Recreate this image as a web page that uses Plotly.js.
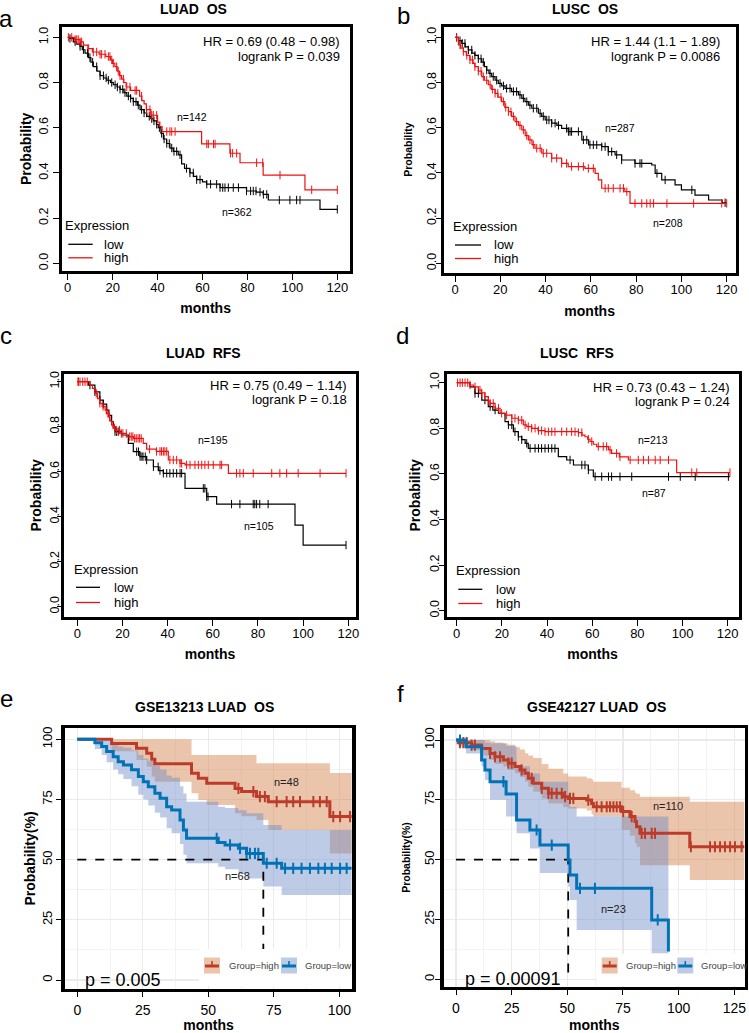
<!DOCTYPE html>
<html><head><meta charset="utf-8">
<script src="https://cdn.plot.ly/plotly-3.0.1.min.js"></script>
<style>html,body{margin:0;padding:0;background:#fff;}#chart{width:749px;height:1033px;}</style>
</head><body><div id="chart"></div>
<script>
// ================= DATA =================
// Panel a: LUAD OS (KM steps: time in months, survival probability)
const aLowT = [0,1,2.5,4,5.5,6.5,7.7,9.2,10.3,11.4,13,14.4,16,17.4,19,20.3,22,23.3,25,26.3,28,29.2,31,32.2,34,35.2,37,38.1,39.5,40.3,41.5,42.6,44,45.5,47,49.2,50.7,52,54.4,56,57.4,60,61.8,67.8,79.6,84,87,89.3,112.3,120];
const aLowS = [1,0.995,0.98,0.97,0.96,0.945,0.93,0.91,0.89,0.87,0.85,0.83,0.82,0.81,0.8,0.79,0.78,0.77,0.755,0.74,0.73,0.715,0.7,0.68,0.665,0.65,0.64,0.63,0.615,0.6,0.575,0.55,0.53,0.51,0.495,0.48,0.44,0.42,0.4,0.385,0.37,0.36,0.35,0.335,0.32,0.315,0.305,0.28,0.239,0.239];
const aLowCens = [1,3.3,5.5,7,8.8,9.9,11.1,12.9,14.4,15.9,17.1,18.1,19.6,21.1,22.1,23.3,24.5,25.5,27,28,29.2,30.4,31.4,32.9,34,35.1,36.3,37.4,38.4,39.6,40.8,41.8,42.9,44.1,45.2,46.3,47.3,48.5,50,52.9,54.4,55.9,57.4,58.9,61.9,63.6,66.3,67.8,69,70,71.5,73.7,76,79.6,81.4,82.6,83.8,85.6,87.1,88.6,94.2,98.9,101.9,103.4,120];
const aHighT = [0,3,5.5,7,9,11,14,17,19,20,21,22,23,24,25,26,28,32,33,34,35,37,40,41,42,59.6,72.2,76.7,87,105.6,120];
const aHighS = [1,0.99,0.98,0.965,0.95,0.935,0.925,0.915,0.9,0.885,0.87,0.85,0.83,0.815,0.8,0.78,0.765,0.74,0.72,0.705,0.68,0.655,0.625,0.605,0.583,0.528,0.487,0.445,0.39,0.325,0.325];
const aHighCens = [0.3,1.8,3.3,4,4.7,5.5,6.2,9.2,11.4,12.9,14.4,15.1,16.6,18.1,18.8,19.6,20.3,21.8,22.5,23.3,24.8,26.3,27.7,30,30.7,32.9,35.1,36.6,37.4,38.1,39.6,44.1,45.5,46.3,47.8,61.9,62.6,64.9,65.6,72.5,73.4,75.2,84.1,86.8,94.5,108.6,120];

// Panel b: LUSC OS
const bLowT = [0,1.5,3,4.5,5.9,7.5,8.8,10.3,11.8,13,14,15,16.2,17.7,19.1,20.6,22.1,25,28,29.5,30.9,32.4,33.9,36.8,38.3,39.8,42.7,45,47.1,50,56,59,64.8,67.7,70.7,73.6,79.5,86.9,88.4,91.3,97.2,100,106,112,118,120];
const bLowS = [1,0.985,0.973,0.958,0.944,0.93,0.92,0.905,0.89,0.87,0.855,0.84,0.826,0.81,0.796,0.785,0.774,0.76,0.745,0.73,0.715,0.7,0.686,0.664,0.65,0.634,0.62,0.61,0.597,0.583,0.546,0.524,0.516,0.494,0.48,0.457,0.442,0.435,0.398,0.369,0.347,0.325,0.302,0.28,0.268,0.268];
const bLowCens = [0.7,2.2,3.2,4.4,5.9,7.4,8.8,10.3,11.5,12.5,14,15.5,16.9,18.4,19.9,21.4,22.8,24.3,25.8,27.2,28.7,30.2,31.7,33.1,34.6,36.1,37.6,39,40.5,41.5,42.7,44.2,45.7,49.3,50.1,50.8,51.5,54.5,56.7,58.2,59.6,61.1,62.6,64.8,66.3,67.7,69.2,71.4,73.6,79.5,81.7,82.5,89.2,92.8,104.6,119.3];
const bHighT = [0,1.5,2.5,3.7,5,6.6,8,8.8,10.3,11.8,13,14.7,16,17.7,19,20.6,22,23.6,25,26.5,28,29.5,31,32.4,34,35.3,38.3,42.7,47.1,50,57.4,61.9,63.3,64.8,75,77.3,120];
const bHighS = [1,0.966,0.952,0.937,0.92,0.9,0.885,0.87,0.85,0.826,0.81,0.79,0.77,0.752,0.735,0.715,0.69,0.671,0.65,0.627,0.61,0.59,0.565,0.546,0.525,0.509,0.487,0.465,0.442,0.428,0.42,0.398,0.369,0.332,0.317,0.265,0.265];
const bHighCens = [0.7,2.2,3.7,5.2,6.6,7.7,8.8,10.3,11.5,12.5,14,15.5,16.5,17.7,18.9,20.3,21.4,22.4,23.6,24.7,25.8,27.2,28.7,30.2,31.7,33.1,34.6,36.1,37.6,39,40.5,42.7,44.9,47.1,49.3,51.5,54.5,56.7,58.9,61.1,66.3,67.7,69.9,72.9,74.4,75.9,79.5,82.5,84.7,86.2,87.7,93.6,105.4,117.8,120];

// Panel c: LUAD RFS
const cLowT = [0,4.9,7.8,10,11.5,13,14,15.2,16,16.7,19.6,22.6,24.8,27.7,30.7,33.7,36,38.1,47.7,57.3,61.7,96.4,100,119];
const cLowS = [1,0.985,0.955,0.918,0.9,0.874,0.85,0.822,0.8,0.778,0.763,0.726,0.689,0.667,0.652,0.622,0.605,0.593,0.526,0.489,0.456,0.363,0.274,0.274];
const cLowCens = [5.6,7.8,10,11.5,13,16.7,17.4,18.1,26.3,27.1,27.8,28.6,29.1,30.1,30.7,33.7,35.8,36.6,38.1,39.6,41,42.5,44,45.5,46.2,55.8,56.5,57.3,57.9,68.3,72,77.9,78.6,79.4,80.8,84.5,119];
const cHighT = [0,5.6,6.7,7.8,9,10,11,12.3,13,13.7,14.5,15.2,16,16.7,18.9,21.8,24.8,29.2,30.7,35,40.3,45.5,47.7,66.9,119];
const cHighS = [1,0.985,0.97,0.948,0.925,0.904,0.89,0.874,0.86,0.844,0.825,0.807,0.795,0.785,0.77,0.756,0.748,0.726,0.7,0.69,0.652,0.637,0.63,0.593,0.593];
const cHighCens = [0.3,0.5,1.2,2.4,3.4,4.4,8.4,10,11.4,12.8,13.6,14.3,15.8,16.5,17.3,18.7,19.5,20.2,21.7,23.2,23.9,24.6,25.4,26.1,26.9,27.6,28.3,32,35.1,36.6,37.3,38.1,38.8,39.6,41,42.5,44,45.5,46.2,48.4,49.9,52.1,53.6,55.1,56.5,58,60.2,63.2,63.9,70.5,72,73.5,77.9,86.1,89.7,92.7,97.8,107.5,119];

// Panel d: LUSC RFS
const dLowT = [0,5.9,8.1,11.1,14,16,18.5,21.4,22.9,25.1,27.3,28.8,30.3,31.7,45,48.7,51.7,58.3,60.5,121];
const dLowS = [1,0.982,0.953,0.924,0.895,0.88,0.866,0.829,0.815,0.785,0.763,0.75,0.734,0.712,0.676,0.661,0.639,0.617,0.588,0.588];
const dLowCens = [8.1,9.6,12.5,14.8,17,22.9,24.4,25.8,27.3,28.8,31,32.5,34.7,36.2,37.6,39.1,40.6,42.1,43.5,50.2,55.4,56.8,58.3,61.3,64.2,67.2,68.6,72.3,77.5,93.8,99,105.6,120.3];
const dHighT = [0,5.9,7.4,9.6,11,12.5,14,14.8,17,19.2,21.4,24.4,27.3,29.5,31,33.2,36,39.1,53.9,55.5,56.8,58,59,60.5,62,67.2,68.6,72,76,97.4,121];
const dHighS = [1,0.99,0.982,0.968,0.955,0.939,0.92,0.909,0.888,0.866,0.858,0.844,0.836,0.815,0.807,0.8,0.79,0.785,0.781,0.77,0.763,0.752,0.742,0.73,0.72,0.705,0.69,0.675,0.661,0.606,0.606];
const dHighCens = [0.4,1.5,2.5,3.7,4.9,5.9,8.1,10.3,11.1,12.5,14,14.8,16.2,18.5,19.9,22.1,24.4,25.8,27.3,28.8,30.3,31.7,33.2,34.7,36.2,37.6,39.1,40.6,42.1,43.5,46.5,48.7,50.9,52.4,53.9,55.4,58.3,59.8,62.7,64.9,66.4,67.9,70.8,72.3,76.8,80.4,82.7,84.9,87.9,90.1,93.8,104.1,106.3,121];

// Panel e: GSE13213 LUAD OS (percent, with confidence band)
const eHighT  = [0,13.1,22.6,26.5,28.4,29.6,43.6,46.2,49.4,60.2,62.7,68.4,72.9,96.4,104.7];
const eHighS  = [100,98.3,96.3,94.2,91.7,89.8,85.9,83.8,81.7,79.6,78.3,76.2,74.1,67.9,67.9];
const eHighUp = [100,100,100,100,100,100,93.5,93.5,93.5,93.5,93.5,90,90,86,86];
const eHighLo = [100,95,91.4,88.6,84.5,82.4,77.6,74.8,72.7,69.3,68,66.5,62.3,52.6,52.6];
const eHighCens = [61.5,67.2,69.7,71.6,76.1,79.9,82.4,85,90.1,92.6,95.2,97.7,100.3,104.1];
const eLowT  = [0,6.7,9.3,11.2,13.7,15.6,17.6,20.7,23.3,25.2,27.1,29.6,31.6,34.1,36,39.2,40.5,41.7,53.8,56.4,61.5,64.6,71,78,104.7];
const eLowS  = [100,98.6,97,94.9,92.8,90.7,89.3,87.3,84.5,82.4,80.3,77.6,75.5,72,70.6,66.5,62.3,58.9,57.1,56.1,54.7,52.6,48.5,46.4,46.4];
const eLowUp = [100,100,100,99.5,98.5,97,96.5,95.5,93.5,92,91,89,87.5,85,84,80.5,77.5,74.1,72,71.5,70.5,69.3,64.4,62.3,62.3];
const eLowLo = [100,96,93.5,90.5,87.5,85.5,83.5,80.5,77,75,72.5,69.5,67.5,63,61,56.5,52,48.5,47,46,44,42.2,38.8,35.3,35.3];
const eLowCens = [53.2,58.3,62.1,64.6,65.9,67.8,69.1,72.3,76.1,79.3,82.4,85.6,88.8,92,94.5,97.1,100.3,102.8];

// Panel f: GSE42127 LUAD OS
const fHighT  = [0,1,7,11.5,15.3,17.5,21.3,23.5,26.5,28.7,31,32.5,34.7,38.5,41.5,48.2,50.4,58.7,60.9,61.7,74.4,78.1,80.4,81.1,82.6,105,129.5];
const fHighS  = [100,98.9,97.9,96.5,94.4,93,91.6,90.3,88.9,87.5,86.1,84,81.9,79.8,77.7,76.3,75.6,74.9,73.5,72.1,70.1,68,65.9,63.8,61,55.4,55.4];
const fHighUp = [100,100,100,100,99.5,99,98.5,98,97,96,94.5,93.5,92.5,90,88,86,84.7,84,83.5,82.6,80,79,78,77.5,76.3,74.2,74.2];
const fHighLo = [100,97.2,95.8,93.5,91.6,90,88.9,87.5,86.1,84.5,82.6,80.5,78.4,75.6,73.5,72,71.4,70.5,69,68,62.4,60,57,55.4,47.7,41.5,41.5];
const fHighCens = [1.8,3.3,4.8,7,8.5,15.3,17.5,19.8,23.5,25,29.5,34,38.5,41.5,43,45.2,47.5,49,51.2,52.7,59.4,63.2,65.4,67.7,69.2,70.7,72.2,73.7,75.1,78.9,83.4,84.9,87.9,89.4,105.5,114.1,116.3,118.6,120.8,123.1,125.3,128.3];
const fLowT  = [0,4.5,11.5,13,15.3,22.5,27.2,33.2,37.7,50.4,51.2,54.2,87.9,95.4];
const fLowS  = [100,97.2,91.6,87.5,82.6,77.4,66.6,62.4,56.1,49.9,43.6,38,24.8,11.6];
const fLowUp = [100,100,100,99,98.6,97.5,89,86,82.6,77.7,72,68,68,68];
const fLowLo = [100,94.4,88.9,83.3,75,68,61,54.7,44.4,38.7,33.1,20.6,10.9,10.9];
const fLowCens = [1.8,21.3,36.2,43,55.7,62.4,90.6];

// Text content
const panelTitles = ['LUAD\u00a0 OS','LUSC\u00a0 OS','LUAD\u00a0 RFS','LUSC\u00a0 RFS','GSE13213 LUAD\u00a0 OS','GSE42127 LUAD\u00a0 OS'];
const panelLetters = ['a','b','c','d','e','f'];
const hrText = ['HR = 0.69 (0.48 \u2212 0.98)','HR = 1.44 (1.1 \u2212 1.89)','HR = 0.75 (0.49 \u2212 1.14)','HR = 0.73 (0.43 \u2212 1.24)'];
const pText = ['logrank P = 0.039','logrank P = 0.0086','logrank P = 0.18','logrank P = 0.24'];
const nLow = ['n=362','n=287','n=105','n=87','n=68','n=23'];
const nHigh = ['n=142','n=208','n=195','n=213','n=48','n=110'];
const gsePText = ['p = 0.005','p = 0.00091'];
const legendTitle = 'Expression';
const groupNames = ['low','high'];
const gseGroupNames = ['Group=high','Group=low'];

// ================= RENDERING =================
const W = 749, H = 1033;
const FONT = 'Liberation Sans, Arial, Helvetica, sans-serif';
const RED = '#f01010', BLACK = '#000000';
const GRED = '#BC3C29', GBLUE = '#0072B5';
const BAND_HIGH = 'rgba(210,125,70,0.45)', BAND_LOW = 'rgba(110,140,200,0.45)';

function stepAt(T, S, t) { let v = S[0]; for (let i = 0; i < T.length; i++) { if (T[i] <= t) v = S[i]; else break; } return v; }
function median(T, S, lvl) { for (let i = 0; i < T.length; i++) if (S[i] <= lvl) return T[i]; return null; }

function geo(L, R, T, B, xp0, xp1, xv0, xv1, yp0, yp1, yv0, yv1, lw) {
  const i = lw / 2, l = L + i, r = R - i, t = T + i, b = B - i;
  const sx = (xv1 - xv0) / (xp1 - xp0), sy = (yv1 - yv0) / (yp0 - yp1);
  return { xd: [l / W, r / W], yd: [1 - b / H, 1 - t / H],
    xr: [xv0 + (l - xp0) * sx, xv0 + (r - xp0) * sx],
    yr: [yv0 + (yp0 - b) * sy, yv0 + (yp0 - t) * sy] };
}
const G = [
  geo(60.3, 351, 25.3, 272.3, 67.7, 337.3, 0, 120, 263.3, 37.3, 0, 1, 3),
  geo(442.3, 737, 25.3, 274, 455, 726.7, 0, 120, 263.3, 37.3, 0, 1, 3),
  geo(62.7, 357.3, 372.3, 618.3, 77.3, 348.3, 0, 120, 606.7, 381.7, 0, 1, 3),
  geo(445, 740, 372.3, 618.3, 456.7, 727.7, 0, 120, 610.7, 382.7, 0, 1, 3),
  geo(63, 354, 726.3, 990.7, 77.3, 339.3, 0, 100, 980, 739.3, 0, 100, 3.5),
  geo(442, 746.7, 726.3, 988.7, 456, 734.3, 0, 125, 979.3, 740, 0, 100, 3.5)
];
// per-panel axis label spacing: [y ticklen, y labelStandoff, y titleStandoff, x labelStandoff, x titleStandoff]
const AX = [
  [6, 0, 2, -3, 9],
  [5, -5, 11, -3, 11],
  [4, -7, 4, -3, 9],
  [5, -5, 4, -3, 9],
  [5, -1, 2, 1, 12],
  [5, -4, 10, 1, 12]
];

const traces = [];
function km(k, T, S, C, color, w, ms, mw) {
  const xa = 'x' + (k ? k + 1 : ''), ya = 'y' + (k ? k + 1 : '');
  traces.push({ type: 'scatter', mode: 'lines', x: T, y: S, xaxis: xa, yaxis: ya,
    line: { shape: 'hv', color: color, width: w }, showlegend: false, hoverinfo: 'skip' });
  traces.push({ type: 'scatter', mode: 'markers', x: C, y: C.map(t => stepAt(T, S, t)), xaxis: xa, yaxis: ya,
    marker: { symbol: 'line-ns', size: ms, color: color, line: { color: color, width: mw } },
    showlegend: false, hoverinfo: 'skip' });
}
function band(k, T, U, L, fill) {
  const xa = 'x' + (k + 1), ya = 'y' + (k + 1);
  traces.push({ type: 'scatter', mode: 'lines', x: T, y: U, xaxis: xa, yaxis: ya,
    line: { shape: 'hv', width: 0, color: fill }, showlegend: false, hoverinfo: 'skip' });
  traces.push({ type: 'scatter', mode: 'lines', x: T, y: L, xaxis: xa, yaxis: ya,
    line: { shape: 'hv', width: 0, color: fill }, fill: 'tonexty', fillcolor: fill, showlegend: false, hoverinfo: 'skip' });
}
function medLine(k, T, S) {
  const m = median(T, S, 50);
  const xa = 'x' + (k + 1), ya = 'y' + (k + 1);
  traces.push({ type: 'scatter', mode: 'lines', x: [0, m, m], y: [50, 50, 0], xaxis: xa, yaxis: ya,
    line: { color: '#000', width: 1.8, dash: 'dash' }, showlegend: false, hoverinfo: 'skip' });
}

const kmSets = [
  [aLowT, aLowS, aLowCens, aHighT, aHighS, aHighCens],
  [bLowT, bLowS, bLowCens, bHighT, bHighS, bHighCens],
  [cLowT, cLowS, cLowCens, cHighT, cHighS, cHighCens],
  [dLowT, dLowS, dLowCens, dHighT, dHighS, dHighCens]
];
kmSets.forEach((s, k) => {
  km(k, s[0], s[1], s[2], BLACK, 1.2, 6, 1);
  km(k, s[3], s[4], s[5], RED, 1.2, 6, 1);
});
band(4, eHighT, eHighUp, eHighLo, BAND_HIGH);
band(4, eLowT, eLowUp, eLowLo, BAND_LOW);
medLine(4, eLowT, eLowS);
km(4, eHighT, eHighS, eHighCens, GRED, 3, 8, 2);
km(4, eLowT, eLowS, eLowCens, GBLUE, 3, 8, 2);
band(5, fHighT, fHighUp, fHighLo, BAND_HIGH);
band(5, fLowT, fLowUp, fLowLo, BAND_LOW);
medLine(5, fLowT, fLowS);
km(5, fHighT, fHighS, fHighCens, GRED, 3, 8, 2);
km(5, fLowT, fLowS, fLowCens, GBLUE, 3, 8, 2);

const layout = {
  width: W, height: H, margin: { l: 0, r: 0, t: 0, b: 0 },
  paper_bgcolor: '#fff', plot_bgcolor: '#fff',
  font: { family: FONT, color: '#000', size: 13 },
  showlegend: false, annotations: [], shapes: []
};
const yTitles = ['Probability', 'Probability', 'Probability', 'Probability', 'Probability(%)', 'Probability(%)'];
const yTitleSize = [14, 10.5, 14, 14, 14, 10.5];
G.forEach((g, k) => {
  const sfx = k ? k + 1 : '';
  const gse = k >= 4;
  const lw = gse ? 3.5 : 3;
  const a = AX[k];
  const xa = {
    domain: g.xd, range: g.xr, anchor: 'y' + sfx, showline: true, mirror: true, linecolor: '#000', linewidth: lw,
    ticks: 'outside', ticklen: gse ? 5 : 6, tickwidth: 1, tickcolor: '#000', tick0: 0, dtick: gse ? 25 : 20,
    zeroline: false, showgrid: gse, tickfont: { size: gse ? 14 : 13, color: '#000' }, ticklabelstandoff: a[3],
    title: { text: '<b>months</b>', font: { size: 14 }, standoff: a[4] }, fixedrange: true
  };
  const ya = {
    domain: g.yd, range: g.yr, anchor: 'x' + sfx, showline: true, mirror: true, linecolor: '#000', linewidth: lw,
    ticks: 'outside', ticklen: a[0], tickwidth: 1, tickcolor: '#000', tick0: 0, dtick: gse ? 25 : 0.2,
    tickformat: gse ? 'd' : '.1f', tickangle: -90,
    zeroline: false, showgrid: gse, tickfont: { size: gse ? 13 : 12.5, color: '#000' }, ticklabelstandoff: a[1],
    title: { text: '<b>' + yTitles[k] + '</b>', font: { size: yTitleSize[k] }, standoff: a[2] }, fixedrange: true
  };
  if (gse) {
    [xa, ya].forEach(ax => {
      ax.gridcolor = '#EBEBEB'; ax.gridwidth = 1.2;
      ax.minor = { dtick: 12.5, showgrid: true, gridcolor: '#F2F2F2', gridwidth: 0.9, ticks: '' };
    });
  }
  layout['xaxis' + sfx] = xa;
  layout['yaxis' + sfx] = ya;
});

const ann = layout.annotations;
function pxRect(x0, y0, x1, y1, fill) { return { type: 'rect', xref: 'paper', yref: 'paper', x0: x0 / W, x1: x1 / W, y0: 1 - y1 / H, y1: 1 - y0 / H, fillcolor: fill, line: { width: 0 }, layer: 'above' }; }
function pxLine(x0, y0, x1, y1, color, w) { return { type: 'line', xref: 'paper', yref: 'paper', x0: x0 / W, x1: x1 / W, y0: 1 - y0 / H, y1: 1 - y1 / H, line: { color: color, width: w }, layer: 'above' }; }
function pxText(x, y, text, size, color, xanchor, yanchor) {
  ann.push({ xref: 'paper', yref: 'paper', x: x / W, y: 1 - y / H, xanchor: xanchor || 'left', yanchor: yanchor || 'middle',
    text: text, showarrow: false, font: { size: size, color: color || '#000' } });
}

// panel titles and letters
const titlePos = [[193.3, 8.5], [584.7, 8.5], [203.7, 353.3], [576.8, 353.3], [204.3, 706.7], [596.3, 707.3]];
titlePos.forEach((p, k) => pxText(p[0], p[1], '<b>' + panelTitles[k] + '</b>', 14, '#000', 'center', 'middle'));
const letterPos = [[6, 18, 'middle'], [403.5, 0, 'top'], [6, 335, 'middle'], [402.5, 335, 'middle'], [6, 698, 'middle'], [400, 693, 'middle']];
letterPos.forEach((p, k) => pxText(p[0], p[1], panelLetters[k], 24, '#000', 'center', p[2]));

// Expression legends (a-d)
const legGeo = [
  { t: [63.3, 225.7], l: [68.3, 92.7], tx: 101.7, y: [244.3, 257.8] },
  { t: [451, 226.7], l: [455, 481], tx: 491.7, y: [245, 258.5] },
  { t: [71.7, 569.3], l: [76, 100], tx: 111.7, y: [587.3, 602.5] },
  { t: [454, 570.7], l: [458.3, 482.3], tx: 494.3, y: [589.3, 603.5] }
];
legGeo.forEach(L => {
  pxText(L.t[0], L.t[1], legendTitle, 13);
  [BLACK, RED].forEach((c, i) => {
    layout.shapes.push(pxLine(L.l[0], L.y[i], L.l[1], L.y[i], c, 1.3));
    pxText(L.tx, L.y[i], groupNames[i], 13);
  });
});

// HR / logrank texts (data coords)
const hrPos = [[122, 0.98, 0.914], [117.8, 0.98, 0.914], [120.4, 0.981, 0.919], [122, 0.98, 0.917]];
hrPos.forEach((p, k) => {
  const sfx = k ? k + 1 : '';
  ann.push({ xref: 'x' + sfx, yref: 'y' + sfx, x: p[0], y: p[1], xanchor: 'right', yanchor: 'middle', text: hrText[k], showarrow: false, font: { size: 13 } });
  ann.push({ xref: 'x' + sfx, yref: 'y' + sfx, x: p[0], y: p[2], xanchor: 'right', yanchor: 'middle', text: pText[k], showarrow: false, font: { size: 13 } });
});
// n labels
const nHighPos = [[55.2, 0.646], [93.9, 0.177], [60.2, 0.741], [87.1, 0.749], [79.9, 82.4], [95.4, 72.5]];
const nLowPos = [[75.2, 0.226], [72.9, 0.6], [80.6, 0.359], [87.5, 0.518], [61.1, 43.2], [70.7, 29.3]];
for (let k = 0; k < 6; k++) {
  const sfx = k ? k + 1 : '';
  const col = k >= 4 ? '#222' : '#000', fs = k >= 4 ? 11 : 10.5;
  ann.push({ xref: 'x' + sfx, yref: 'y' + sfx, x: nHighPos[k][0], y: nHighPos[k][1], text: nHigh[k], showarrow: false, font: { size: fs, color: col } });
  ann.push({ xref: 'x' + sfx, yref: 'y' + sfx, x: nLowPos[k][0], y: nLowPos[k][1], text: nLow[k], showarrow: false, font: { size: fs, color: col } });
}
// p texts e/f
ann.push({ xref: 'x5', yref: 'y5', x: 2.0, y: 0, xanchor: 'left', yanchor: 'middle', text: gsePText[0], showarrow: false, font: { size: 18 } });
ann.push({ xref: 'x6', yref: 'y6', x: 3.0, y: 0, xanchor: 'left', yanchor: 'middle', text: gsePText[1], showarrow: false, font: { size: 18 } });

// e/f legends (keys)
const gLeg = [{ bg: [199, 949, 352, 986], keys: [204, 281], texts: [227, 303.3] },
              { bg: [597, 954, 744, 986], keys: [601.7, 677.3], texts: [624.3, 699] }];
gLeg.forEach(L => {
  layout.shapes.push(pxRect(L.bg[0], L.bg[1], L.bg[2], L.bg[3], '#ffffff'));
  [[BAND_HIGH, GRED], [BAND_LOW, GBLUE]].forEach((c, i) => {
    const x0 = L.keys[i];
    layout.shapes.push(pxRect(x0, 957.5, x0 + 16, 973.5, c[0]));
    layout.shapes.push(pxLine(x0 + 1, 966, x0 + 15, 966, c[1], 3));
    layout.shapes.push(pxLine(x0 + 8, 961, x0 + 8, 966, c[1], 1.6));
    pxText(L.texts[i], 965.5, gseGroupNames[i], 9.5, '#444');
  });
});

Plotly.newPlot('chart', traces, layout, { staticPlot: true, displayModeBar: false });
</script>
</body></html>
